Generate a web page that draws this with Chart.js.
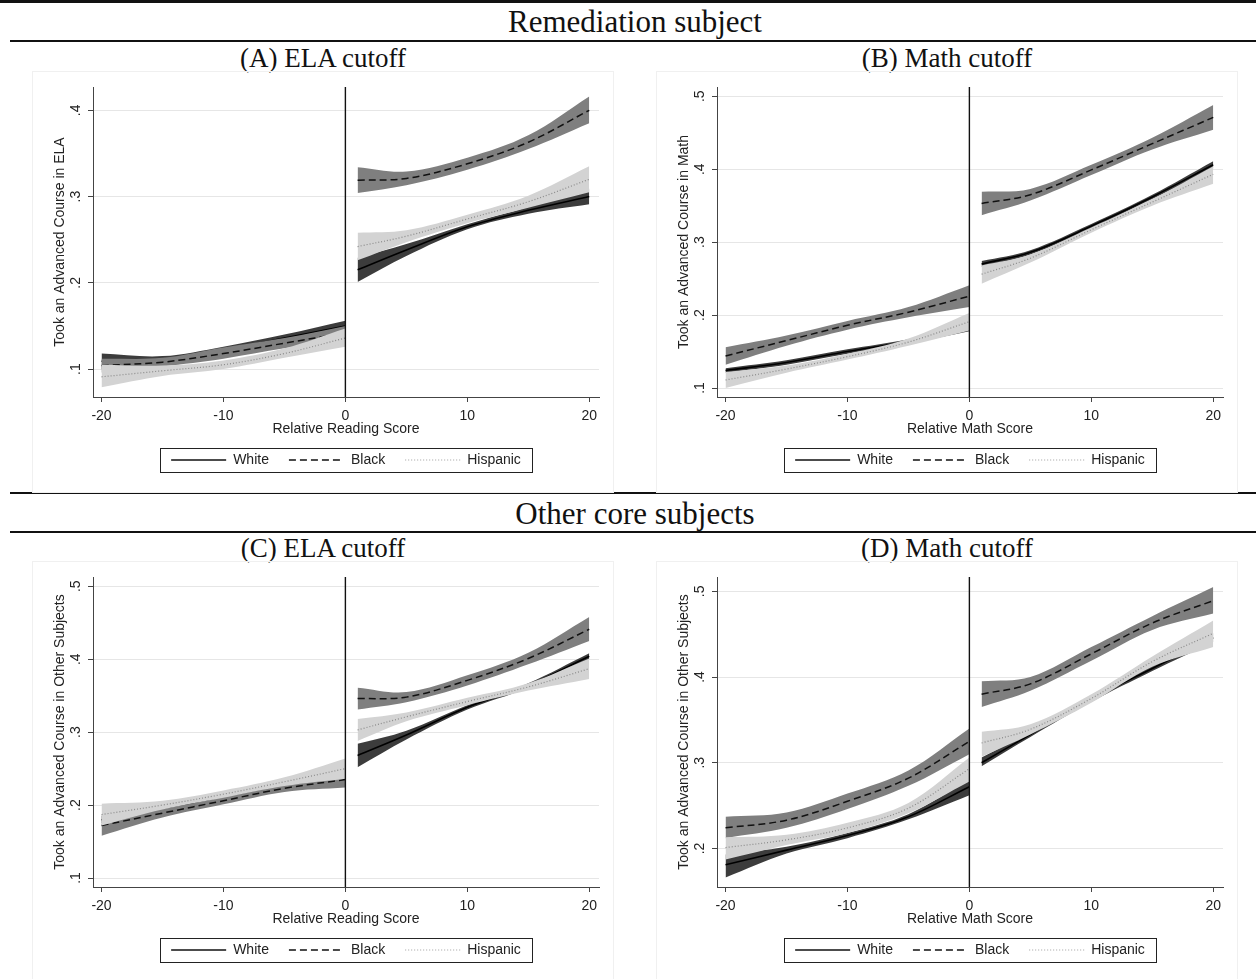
<!DOCTYPE html>
<html>
<head>
<meta charset="utf-8">
<script src="https://cdn.jsdelivr.net/npm/chart.js@4.4.1/dist/chart.umd.min.js"></script>
<style>
  body { margin: 0; background: #fff; width: 1256px; height: 979px; position: relative; overflow: hidden;
         font-family: "Liberation Serif", "Times New Roman", serif; color: #111; }
  .rule { position: absolute; left: 10px; right: 0; background: #111; }
  .hdr { position: absolute; left: 0; width: 1270px; text-align: center; font-size: 31px; height: 32px; line-height: 32px; }
  .ttl { position: absolute; width: 400px; text-align: center; font-size: 27px; height: 30px; line-height: 30px; }
  canvas { position: absolute; outline: 1px solid #f0f0f0; }
</style>
</head>
<body>
<div class="rule" style="top:0;height:3px;left:0"></div>
<div class="hdr" style="top:6px">Remediation subject</div>
<div class="rule" style="top:40px;height:2px"></div>
<div class="ttl" style="top:43px;left:123px">(A) ELA cutoff</div>
<div class="ttl" style="top:43px;left:747px">(B) Math cutoff</div>

<div class="rule" style="top:492px;height:2px"></div>
<div class="hdr" style="top:498px">Other core subjects</div>
<div class="rule" style="top:531px;height:2px"></div>
<div class="ttl" style="top:533px;left:123px">(C) ELA cutoff</div>
<div class="ttl" style="top:533px;left:747px">(D) Math cutoff</div>

<canvas id="pA" width="580" height="420" style="left:33px;top:72px"></canvas>
<canvas id="pB" width="580" height="420" style="left:657px;top:72px"></canvas>
<canvas id="pC" width="580" height="420" style="left:33px;top:562px"></canvas>
<canvas id="pD" width="580" height="420" style="left:657px;top:562px"></canvas>

<script>
// x positions of the fitted curves on each side of the cutoff
const xLeft = [-20, -15, -10, -5, 0];
const xRight = [1, 5, 10, 15, 20];
const xTicks = [-20, -10, 0, 10, 20];
const cutoff = 0;

// each point is [lower CI, fit, upper CI]
// (A) remediation subject, ELA cutoff
const aWhiteL = [[0.100,0.109,0.118],[0.106,0.110,0.115],[0.118,0.122,0.126],[0.132,0.136,0.140],[0.144,0.150,0.156]];
const aBlackL = [[0.096,0.104,0.112],[0.103,0.108,0.113],[0.112,0.118,0.125],[0.124,0.130,0.136],[0.134,0.142,0.150]];
const aHispL  = [[0.079,0.091,0.105],[0.092,0.098,0.104],[0.100,0.105,0.110],[0.113,0.118,0.124],[0.126,0.136,0.147]];
const aWhiteR = [[0.201,0.215,0.229],[0.231,0.238,0.245],[0.262,0.265,0.268],[0.280,0.284,0.288],[0.291,0.300,0.309]];
const aBlackR = [[0.304,0.319,0.334],[0.313,0.321,0.329],[0.331,0.338,0.345],[0.355,0.363,0.371],[0.385,0.400,0.416]];
const aHispR  = [[0.226,0.242,0.258],[0.247,0.254,0.261],[0.269,0.274,0.279],[0.287,0.294,0.301],[0.305,0.320,0.335]];
const yTicksA = [0.1, 0.2, 0.3, 0.4];

// (B) remediation subject, Math cutoff
const bWhiteL = [[0.121,0.124,0.127],[0.132,0.135,0.138],[0.147,0.150,0.153],[0.161,0.164,0.167],[0.178,0.181,0.184]];
const bBlackL = [[0.132,0.144,0.156],[0.158,0.165,0.172],[0.180,0.186,0.192],[0.197,0.204,0.211],[0.211,0.226,0.241]];
const bHispL  = [[0.100,0.111,0.122],[0.121,0.126,0.131],[0.139,0.143,0.147],[0.158,0.163,0.168],[0.179,0.191,0.203]];
const bWhiteR = [[0.266,0.270,0.274],[0.283,0.286,0.289],[0.319,0.322,0.325],[0.359,0.362,0.365],[0.401,0.406,0.411]];
const bBlackR = [[0.337,0.353,0.369],[0.357,0.365,0.373],[0.392,0.399,0.406],[0.427,0.435,0.443],[0.454,0.471,0.488]];
const bHispR  = [[0.243,0.256,0.268],[0.272,0.278,0.283],[0.313,0.317,0.320],[0.350,0.355,0.359],[0.380,0.393,0.404]];
const yTicksB = [0.1, 0.2, 0.3, 0.4, 0.5];

// (C) other core subjects, ELA cutoff (white curve left of cutoff lies under the other bands)
const cWhiteL = [[0.175,0.180,0.185],[0.191,0.194,0.197],[0.207,0.210,0.213],[0.222,0.225,0.228],[0.235,0.240,0.245]];
const cBlackL = [[0.158,0.172,0.186],[0.183,0.189,0.195],[0.201,0.206,0.211],[0.218,0.223,0.228],[0.224,0.235,0.246]];
const cHispL  = [[0.172,0.187,0.202],[0.194,0.200,0.206],[0.210,0.215,0.220],[0.226,0.232,0.238],[0.236,0.250,0.264]];
const cWhiteR = [[0.252,0.268,0.284],[0.290,0.296,0.302],[0.331,0.334,0.337],[0.361,0.364,0.367],[0.400,0.404,0.408]];
const cBlackR = [[0.331,0.346,0.361],[0.341,0.348,0.355],[0.364,0.371,0.378],[0.393,0.401,0.409],[0.425,0.441,0.458]];
const cHispR  = [[0.288,0.303,0.318],[0.315,0.321,0.327],[0.337,0.342,0.347],[0.357,0.362,0.367],[0.373,0.387,0.401]];
const yTicksC = [0.1, 0.2, 0.3, 0.4, 0.5];

// (D) other core subjects, Math cutoff
const dWhiteL = [[0.166,0.181,0.193],[0.194,0.198,0.202],[0.212,0.215,0.218],[0.234,0.237,0.240],[0.262,0.272,0.280]];
const dBlackL = [[0.212,0.224,0.237],[0.224,0.233,0.242],[0.246,0.255,0.264],[0.273,0.282,0.291],[0.310,0.325,0.340]];
const dHispL  = [[0.187,0.201,0.213],[0.204,0.210,0.216],[0.218,0.224,0.230],[0.241,0.247,0.253],[0.278,0.293,0.306]];
const dWhiteR = [[0.296,0.300,0.306],[0.330,0.333,0.336],[0.371,0.374,0.377],[0.407,0.410,0.413],[0.441,0.446,0.451]];
const dBlackR = [[0.365,0.380,0.395],[0.384,0.392,0.400],[0.419,0.427,0.435],[0.455,0.463,0.471],[0.474,0.489,0.505]];
const dHispR  = [[0.307,0.323,0.336],[0.333,0.339,0.345],[0.370,0.375,0.380],[0.412,0.418,0.424],[0.435,0.451,0.466]];
const yTicksD = [0.2, 0.3, 0.4, 0.5];

const groupNames = ["White", "Black", "Hispanic"];

Chart.defaults.font.family = '"Liberation Sans", Arial, sans-serif';
Chart.defaults.font.size = 14;
Chart.defaults.color = "#222";

// Stata layers each group's band and line in turn: White first, Hispanic last (lower order = on top)
const styles = [
  { line: "#000", width: 1.6, dash: [], band: "#3c3c3c", bandOrder: 60, lineOrder: 50, key: "#111" },
  { line: "#111", width: 1.5, dash: [7, 4], band: "#7f7f7f", bandOrder: 40, lineOrder: 30, key: "#111" },
  { line: "#8a8a8a", width: 1.2, dash: [1, 2], band: "#d3d3d3", bandOrder: 20, lineOrder: 10, key: "#a0a0a0" }
];

// draws the frame round the legend like Stata does
const legendFrame = {
  id: "legendFrame",
  afterDraw(chart) {
    const boxes = chart.legend && chart.legend.legendHitBoxes;
    if (!boxes || !boxes.length) return;
    const first = boxes[0], last = boxes[boxes.length - 1];
    const l = Math.round(first.left - 11) + 0.5;
    const r = Math.round(last.left + last.width + 11) + 0.5;
    const t = Math.round(first.top - 5) + 0.5;
    const b = Math.round(first.top + first.height + 5) + 0.5;
    const ctx = chart.ctx;
    ctx.save();
    ctx.strokeStyle = "#222";
    ctx.lineWidth = 1;
    ctx.strokeRect(l, t, r - l, b - t);
    ctx.restore();
  }
};

function pts(xs, arr, k) {
  return xs.map((x, i) => ({ x: x, y: arr[i][k] }));
}

function legendItems(chart) {
  return chart.data.datasets
    .map((ds, i) => ({ ds: ds, i: i }))
    .filter(o => o.ds.inLegend)
    .sort((a, b) => a.ds.group - b.ds.group)
    .map(o => ({
      text: o.ds.label, datasetIndex: o.i, hidden: false, pointStyle: "line",
      strokeStyle: o.ds.keyColor, lineWidth: o.ds.borderWidth, lineDash: o.ds.borderDash,
      fillStyle: "transparent", fontColor: "#222"
    }));
}

function makeChart(id, yTitle, xTitle, yMin, yMax, yTicks, groups) {
  const datasets = [{
    data: [{ x: cutoff, y: yMin }, { x: cutoff, y: yMax }],
    borderColor: "#111", borderWidth: 1.4, pointRadius: 0, fill: false, order: 0, inLegend: false
  }];
  groups.forEach((sides, gi) => {
    const st = styles[gi];
    let legendDone = false;
    [[xLeft, sides[0]], [xRight, sides[1]]].forEach(([xs, arr]) => {
      if (!arr.length) return;
      datasets.push({ data: pts(xs, arr, 2), borderColor: "transparent", borderWidth: 0,
        pointRadius: 0, fill: false, tension: 0.35, order: st.bandOrder, inLegend: false });
      datasets.push({ data: pts(xs, arr, 0), borderColor: "transparent", borderWidth: 0,
        pointRadius: 0, fill: "-1", backgroundColor: st.band, tension: 0.35, order: st.bandOrder, inLegend: false });
      datasets.push({ label: groupNames[gi], group: gi, data: pts(xs, arr, 1), borderColor: st.line,
        borderWidth: st.width, borderDash: st.dash, keyColor: st.key, pointRadius: 0, fill: false,
        tension: 0.35, order: st.lineOrder, inLegend: !legendDone });
      legendDone = true;
    });
  });

  new Chart(document.getElementById(id), {
    type: "line",
    data: { datasets: datasets },
    plugins: [legendFrame],
    options: {
      responsive: false,
      animation: false,
      layout: { padding: { left: 0, right: 14, top: 15, bottom: 15 } },
      plugins: {
        tooltip: { enabled: false },
        legend: {
          position: "bottom",
          fullSize: false,
          labels: {
            usePointStyle: true, pointStyle: "line", pointStyleWidth: 55, padding: 20,
            color: "#222", font: { size: 14 },
            generateLabels: legendItems
          }
        }
      },
      scales: {
        x: {
          type: "linear", min: -20.7, max: 20.8,
          afterBuildTicks: a => { a.ticks = xTicks.map(v => ({ value: v })); },
          afterFit: a => { a.height = 36; },
          grid: { drawOnChartArea: false, tickLength: 5, color: "#444" },
          border: { color: "#444" },
          ticks: { padding: 6, maxRotation: 0, color: "#222", callback: v => String(v) },
          title: { display: true, text: xTitle, color: "#222", padding: { top: 0, bottom: -5 } }
        },
        y: {
          min: yMin, max: yMax,
          afterBuildTicks: a => { a.ticks = yTicks.map(v => ({ value: v })); },
          afterFit: a => { a.width = 60; },
          grid: { color: "#e6e6e6", tickColor: "#444", tickLength: 5 },
          border: { color: "#444" },
          ticks: { padding: 6, minRotation: 90, maxRotation: 90, crossAlign: "center", color: "#222",
                   callback: v => v.toFixed(1).replace(/^0/, "") },
          title: { display: true, text: yTitle, color: "#222", padding: { top: 19, bottom: 0 } }
        }
      }
    }
  });
}

makeChart("pA", "Took an Advanced Course in ELA", "Relative Reading Score", 0.0676, 0.427, yTicksA,
  [[aWhiteL, aWhiteR], [aBlackL, aBlackR], [aHispL, aHispR]]);
makeChart("pB", "Took an Advanced Course in Math", "Relative Math Score", 0.0877, 0.5127, yTicksB,
  [[bWhiteL, bWhiteR], [bBlackL, bBlackR], [bHispL, bHispR]]);
makeChart("pC", "Took an Advanced Course in Other Subjects", "Relative Reading Score", 0.0877, 0.5127, yTicksC,
  [[cWhiteL, cWhiteR], [cBlackL, cBlackR], [cHispL, cHispR]]);
makeChart("pD", "Took an Advanced Course in Other Subjects", "Relative Math Score", 0.155, 0.5167, yTicksD,
  [[dWhiteL, dWhiteR], [dBlackL, dBlackR], [dHispL, dHispR]]);
</script>
</body>
</html>
